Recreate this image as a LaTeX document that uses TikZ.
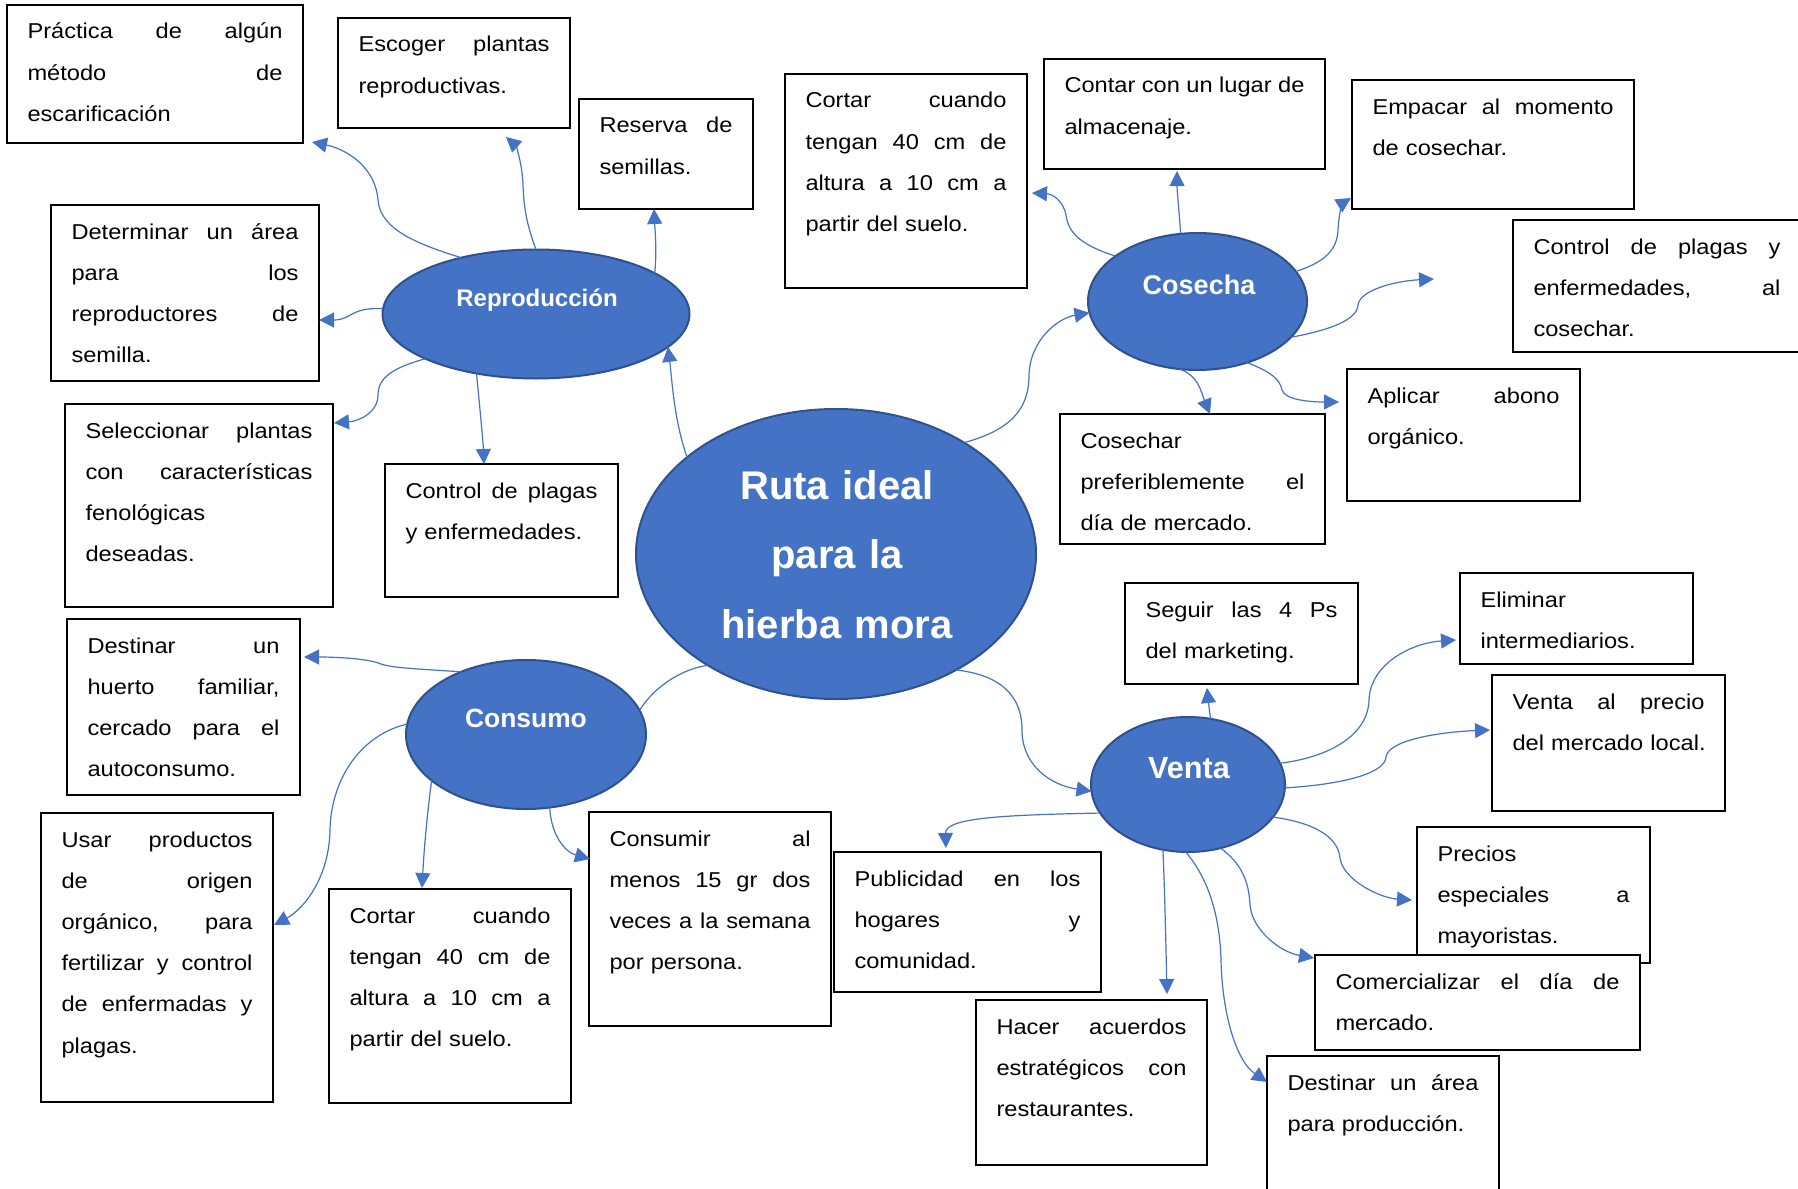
\documentclass[tikz,border=0pt]{standalone}
\usepackage{fontspec}
\setmainfont{Liberation Sans}
\newfontfamily\boxfont[FakeStretch=1.1]{Liberation Sans}
\usetikzlibrary{shapes.geometric,arrows.meta}
\definecolor{nodeblue}{HTML}{4472C4}
\definecolor{edgeblue}{HTML}{2F528F}
% one justified line of a text box: words are spread with \hfill
\newcommand\jl[1]{\leavevmode\hbox to\hsize{#1}\\}

\begin{document}
\begin{tikzpicture}[x=0.5pt,y=-0.5pt,
  hub/.style={ellipse,draw=edgeblue,fill=nodeblue,line width=1pt,inner sep=0pt,outer sep=0pt},
  hublabel/.style={text=white,inner sep=0pt,anchor=base},
  card/.style={draw=black,line width=1pt,fill=white,anchor=north west,
    inner xsep=10.25pt,inner ysep=0pt,outer sep=0pt,text height=17pt,
    font={\boxfont\fontsize{10.75pt}{20.6pt}\selectfont\hyphenpenalty=10000\parindent=0pt}},
  link/.style={draw=nodeblue,line width=0.6pt},
  arrowlink/.style={link,-{Triangle[length=7.5pt,width=7.5pt]}}]

\useasboundingbox (0,0) rectangle (1798,1188);

% ---------- central idea and the four branches ----------
\node[hub,minimum width=200pt,minimum height=145pt] (hubmain) at (836,554) {};
\node[hublabel,font={\bfseries\fontsize{20pt}{34.75pt}\selectfont},text width=200pt,align=center] (maintext) at (837,499) {Ruta ideal\\para la\\hierba mora};

\node[hub,minimum width=153.5pt,minimum height=64.5pt] (rep) at (536,314) {};
\node[hublabel,font={\bfseries\fontsize{12pt}{14pt}\selectfont}] (replab) at (537,306) {Reproducción};

\node[hub,minimum width=109.5pt,minimum height=68.5pt] (cos) at (1197.5,301.5) {};
\node[hublabel,font={\bfseries\fontsize{13.5pt}{16pt}\selectfont}] (coslab) at (1199,294) {Cosecha};

\node[hub,minimum width=120pt,minimum height=74.5pt] (con) at (526,734.5) {};
\node[hublabel,font={\bfseries\fontsize{13.2pt}{16pt}\selectfont}] (conlab) at (526,727.5) {Consumo};

\node[hub,minimum width=97pt,minimum height=67.5pt] (ven) at (1188,784.5) {};
\node[hublabel,font={\bfseries\fontsize{15.3pt}{18pt}\selectfont}] (venlab) at (1189,778) {Venta};

% ---------- Reproducción ----------
\node[card,text width=127.5pt,text depth=52pt] (b1) at (7,5) {\jl{Práctica\hfill de\hfill algún}\jl{método\hfill de}escarificación};
\node[card,text width=95.5pt,text depth=38pt] (b2) at (338,18) {\jl{Escoger\hfill plantas}reproductivas.};
\node[card,text width=66.5pt,text depth=38pt] (b3) at (579,99) {\jl{Reserva\hfill de}semillas.};
\node[card,text width=113.5pt,text depth=71pt] (b5) at (51,205) {\jl{Determinar\hfill un\hfill área}\jl{para\hfill los}\jl{reproductores\hfill de}semilla.};
\node[card,text width=113.5pt,text depth=84.5pt] (b6) at (65,404) {\jl{Seleccionar\hfill plantas}\jl{con\hfill características}fenológicas\\deseadas.};
\node[card,text width=96pt,text depth=49.5pt] (b7) at (385,464) {\jl{Control\hfill de\hfill plagas}y enfermedades.};

% ---------- Cosecha ----------
\node[card,text width=100.5pt,text depth=90pt] (b4) at (785,74) {\jl{Cortar\hfill cuando}\jl{tengan\hfill 40\hfill cm\hfill de}\jl{altura\hfill a\hfill 10\hfill cm\hfill a}partir del suelo.};
\node[card,text width=120pt,text depth=38pt] (b8) at (1044,59) {\jl{Contar\hfill con\hfill un\hfill lugar\hfill de}almacenaje.};
\node[card,text width=120.5pt,text depth=47.5pt] (b9) at (1352,80) {\jl{Empacar\hfill al\hfill momento}de cosechar.};
\node[card,text width=123.5pt,text depth=49pt] (b10) at (1513,220) {\jl{Control\hfill de\hfill plagas\hfill y}\jl{enfermedades,\hfill al}cosechar.};
\node[card,text width=112pt,text depth=48pt] (b11) at (1060,414) {Cosechar\\\jl{preferiblemente\hfill el}día de mercado.};
\node[card,text width=96pt,text depth=49pt] (b12) at (1347,369) {\jl{Aplicar\hfill abono}orgánico.};

% ---------- Consumo ----------
\node[card,text width=96pt,text depth=71pt] (b13) at (67,619) {\jl{Destinar\hfill un}\jl{huerto\hfill familiar,}\jl{cercado\hfill para\hfill el}autoconsumo.};
\node[card,text width=95.5pt,text depth=127.5pt] (b14) at (41,813) {\jl{Usar\hfill productos}\jl{de\hfill origen}\jl{orgánico,\hfill para}\jl{fertilizar\hfill y\hfill control}\jl{de\hfill enfermadas\hfill y}plagas.};
\node[card,text width=100.5pt,text depth=90pt] (b15) at (329,889) {\jl{Cortar\hfill cuando}\jl{tengan\hfill 40\hfill cm\hfill de}\jl{altura\hfill a\hfill 10\hfill cm\hfill a}partir del suelo.};
\node[card,text width=100.5pt,text depth=90pt] (b16) at (589,812) {\jl{Consumir\hfill al}\jl{menos\hfill 15\hfill gr\hfill dos}\jl{veces\hfill a\hfill la\hfill semana}por persona.};

% ---------- Venta ----------
\node[card,text width=113pt,text depth=53pt] (b17) at (834,852) {\jl{Publicidad\hfill en\hfill los}\jl{hogares\hfill y}comunidad.};
\node[card,text width=96pt,text depth=33.5pt] (b18) at (1125,583) {\jl{Seguir\hfill las\hfill 4\hfill Ps}del marketing.};
\node[card,text width=96pt,text depth=28.5pt] (b19) at (1460,573) {Eliminar\\intermediarios.};
\node[card,text width=96pt,text depth=51pt] (b20) at (1492,675) {\jl{Venta\hfill al\hfill precio}\mbox{del mercado local.}};
\node[card,text width=96pt,text depth=51pt] (b21) at (1417,827) {Precios\\\jl{especiales\hfill a}mayoristas.};
\node[card,text width=142pt,text depth=30.5pt] (b22) at (1315,955) {\jl{Comercializar\hfill el\hfill día\hfill de}mercado.};
\node[card,text width=95pt,text depth=65.5pt] (b23) at (976,1000) {\jl{Hacer\hfill acuerdos}\jl{estratégicos\hfill con}restaurantes.};
\node[card,text width=95.5pt,text depth=55pt] (b24) at (1267,1056) {\jl{Destinar\hfill un\hfill área}para producción.};

% ---------- arrow ends ----------
\coordinate (r1) at (312,142);
\coordinate (r2) at (506,137);
\coordinate (r3) at (654,209);
\coordinate (r4) at (319,320);
\coordinate (r5) at (334,423);
\coordinate (r6) at (484,464);
\coordinate (c1) at (1032,193);
\coordinate (c2) at (1177,171);
\coordinate (c3) at (1351,198);
\coordinate (c4) at (1434,279);
\coordinate (c5) at (1210,414);
\coordinate (c6) at (1339,402);
\coordinate (k1) at (304,657);
\coordinate (k2) at (274,925);
\coordinate (k3) at (422,888);
\coordinate (k4) at (590,859);
\coordinate (v1) at (1207,688);
\coordinate (v2) at (1456,640);
\coordinate (v3) at (1490,730);
\coordinate (v4) at (946,848);
\coordinate (v5) at (1167,994);
\coordinate (v6) at (1267,1082);
\coordinate (v7) at (1314,958);
\coordinate (v8) at (1412,900);

% ---------- connectors: centre to branches ----------
\draw[arrowlink] (hubmain.147) .. controls (674,420) and (672,380) .. (rep.346.6);
\draw[arrowlink] (hubmain.41.6) .. controls (1010,430) and (1029,410) .. (1029,375) .. controls (1030,340) and (1058,318) .. (cos.186);
\draw[link] (hubmain.221) .. controls (685,668) and (655,685) .. (con.12.6);
\draw[arrowlink] (hubmain.316.7) .. controls (1000,675) and (1022,695) .. (1022,730) .. controls (1022,765) and (1050,785) .. (ven.184.3);

% ---------- connectors: Reproducción ----------
\draw[arrowlink] (rep.143.5) .. controls (420,245) and (380,230) .. (378,200) .. controls (376,170) and (350,150) .. (r1);
\draw[arrowlink] (rep.90) .. controls (527,225) and (524,210) .. (523,185) .. controls (522,160) and (515,145) .. (r2);
\draw[arrowlink] (rep.19.3) .. controls (657,250) and (655,230) .. (r3);
\draw[arrowlink] (rep.178) .. controls (350,307) and (352,320) .. (r4);
\draw[arrowlink] (rep.202) .. controls (392,368) and (378,378) .. (378,395) .. controls (378,412) and (360,421) .. (r5);
\draw[arrowlink] (rep.225.5) .. controls (480,410) and (483,440) .. (r6);

% ---------- connectors: Cosecha ----------
\draw[arrowlink] (cos.151) .. controls (1080,245) and (1068,232) .. (1066,215) .. controls (1063,200) and (1052,194) .. (c1);
\draw[arrowlink] (cos.104) .. controls (1179,210) and (1177,190) .. (c2);
\draw[arrowlink] (cos.17.3) .. controls (1325,262) and (1337,250) .. (1338,230) .. controls (1339,212) and (1343,203) .. (c3);
\draw[arrowlink] (cos.339.4) .. controls (1330,330) and (1357,320) .. (1358,305) .. controls (1360,290) and (1395,281) .. (c4);
\draw[arrowlink] (cos.255.6) .. controls (1199,376) and (1201,392) .. (c5);
\draw[arrowlink] (cos.309) .. controls (1272,372) and (1280,380) .. (1282,390) .. controls (1285,400) and (1310,402) .. (c6);

% ---------- connectors: Consumo ----------
\draw[arrowlink] (con.136) .. controls (420,669) and (392,668) .. (381,664) .. controls (370,659) and (340,657) .. (k1);
\draw[arrowlink] (con.175) .. controls (360,735) and (331,780) .. (330,830) .. controls (329,880) and (302,910) .. (k2);
\draw[arrowlink] (con.206.6) .. controls (427,815) and (424,850) .. (k3);
\draw[arrowlink] (con.288.3) .. controls (551,835) and (565,852) .. (k4);

% ---------- connectors: Venta ----------
\draw[arrowlink] (ven.71.4) .. controls (1209,708) and (1208,698) .. (v1);
\draw[arrowlink] (ven.13.5) .. controls (1330,757) and (1368,735) .. (1369,700) .. controls (1370,665) and (1410,643) .. (v2);
\draw[arrowlink] (ven.358.5) .. controls (1335,785) and (1385,775) .. (1386,757) .. controls (1388,740) and (1440,732) .. (v3);
\draw[arrowlink] (ven.198.1) .. controls (1000,815) and (945,818) .. (v4);
\draw[arrowlink] (ven.249.7) .. controls (1165,900) and (1166,950) .. (v5);
\draw[arrowlink] (ven.268.3) .. controls (1210,880) and (1220,920) .. (1221,960) .. controls (1222,1010) and (1235,1060) .. (v6);
\draw[arrowlink] (ven.297.1) .. controls (1240,862) and (1249,880) .. (1250,905) .. controls (1252,930) and (1280,952) .. (v7);
\draw[arrowlink] (ven.339.7) .. controls (1310,822) and (1338,835) .. (1340,858) .. controls (1343,880) and (1380,898) .. (v8);

\end{tikzpicture}
\end{document}
